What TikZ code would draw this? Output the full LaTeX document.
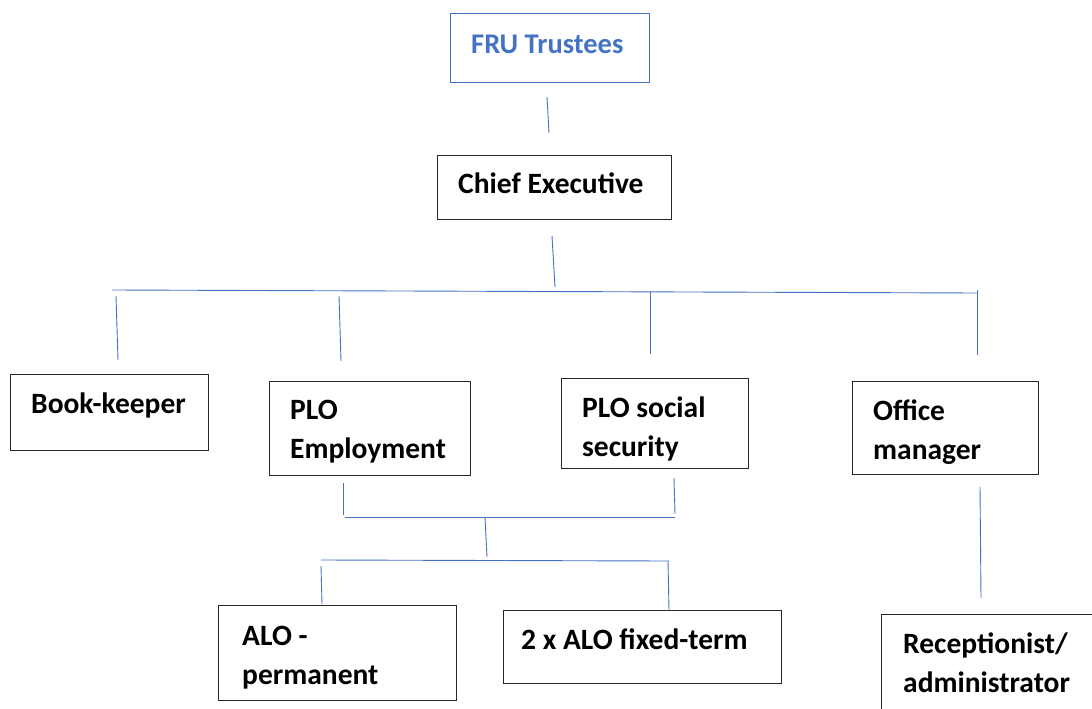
\documentclass[tikz,border=0pt]{standalone}
\usepackage{fontspec}
\setmainfont{Carlito}
\definecolor{lineblue}{HTML}{4472C4}
\tikzset{
  box/.style={draw=black!85, line width=1.2pt, anchor=north west, inner sep=0pt},
  bluebox/.style={draw=lineblue, line width=1pt, anchor=north west, inner sep=0pt},
  lbl/.style={anchor=base west, inner sep=0pt, font=\fontsize{29.5}{39}\selectfont\bfseries},
  conn/.style={draw=lineblue, line width=0.9pt},
}
\newcommand{\twolines}[2]{\parbox[t]{8cm}{\raggedright #1\\#2}}
\begin{document}
\begin{tikzpicture}[x=1pt,y=-1pt]
\clip (0,0) rectangle (1092,709);
\fill[white] (0,0) rectangle (1092,709);
% boxes
\node[bluebox, minimum width=199pt, minimum height=69pt] (tr) at (450,13) {};
\node[box, minimum width=234pt, minimum height=64pt] (ce) at (437,155) {};
\node[box, minimum width=198pt, minimum height=76pt] (bk) at (10,374) {};
\node[box, minimum width=201pt, minimum height=94pt] (pe) at (269,381) {};
\node[box, minimum width=187pt, minimum height=90pt] (ps) at (561,378) {};
\node[box, minimum width=186pt, minimum height=93pt] (om) at (852,381) {};
\node[box, minimum width=238pt, minimum height=95pt] (ap) at (218,605) {};
\node[box, minimum width=278pt, minimum height=73pt] (af) at (503,610) {};
\node[box, minimum width=230pt, minimum height=120pt] (ra) at (881,614) {};
% labels
\node[lbl, text=lineblue, font=\fontsize{28.5}{39}\selectfont\bfseries] (trt) at (471,53) {FRU Trustees};
\node[lbl] (cet) at (458,193) {Chief Executive};
\node[lbl] (bkt) at (31,413) {Book-keeper};
\node[lbl] (pet) at (290,419) {\twolines{PLO}{Employment}};
\node[lbl] (pst) at (582,417) {\twolines{PLO social}{security}};
\node[lbl] (omt) at (873,420) {\twolines{Office}{manager}};
\node[lbl] (apt) at (242,645) {\twolines{ALO -}{permanent}};
\node[lbl] (aft) at (521,649) {2 x ALO fixed-term};
\node[lbl] (rat) at (903,653) {\twolines{Receptionist/}{administrator}};
% connector end points
\coordinate (a1) at (547,97);  \coordinate (a2) at (549,133);
\coordinate (b1) at (552,236); \coordinate (b2) at (555,287);
\coordinate (busL) at (112,290); \coordinate (busR) at (978,293);
\coordinate (d1a) at (116,296); \coordinate (d1b) at (118,360);
\coordinate (d2a) at (339,296); \coordinate (d2b) at (341,361);
\coordinate (d3a) at (650,292); \coordinate (d3b) at (650,354);
\coordinate (d4a) at (977,290); \coordinate (d4b) at (977,355);
\coordinate (e1a) at (343,483); \coordinate (e1b) at (343,515);
\coordinate (e2a) at (674,478); \coordinate (e2b) at (675,514);
\coordinate (h1L) at (345,517); \coordinate (h1R) at (675,517);
\coordinate (c1a) at (485,517); \coordinate (c1b) at (487,557);
\coordinate (h2L) at (321,560); \coordinate (h2R) at (669,561);
\coordinate (f1a) at (321,566); \coordinate (f1b) at (322,604);
\coordinate (f2a) at (668,561); \coordinate (f2b) at (669,610);
\coordinate (g1a) at (980,487); \coordinate (g1b) at (981,598);
% connectors
\draw[conn] (a1) -- (a2);
\draw[conn] (b1) -- (b2);
\draw[conn] (busL) -- (busR);
\draw[conn] (d1a) -- (d1b);
\draw[conn] (d2a) -- (d2b);
\draw[conn] (d3a) -- (d3b);
\draw[conn] (d4a) -- (d4b);
\draw[conn] (e1a) -- (e1b);
\draw[conn] (e2a) -- (e2b);
\draw[conn] (h1L) -- (h1R);
\draw[conn] (c1a) -- (c1b);
\draw[conn] (h2L) -- (h2R);
\draw[conn] (f1a) -- (f1b);
\draw[conn] (f2a) -- (f2b);
\draw[conn] (g1a) -- (g1b);
\end{tikzpicture}
\end{document}
